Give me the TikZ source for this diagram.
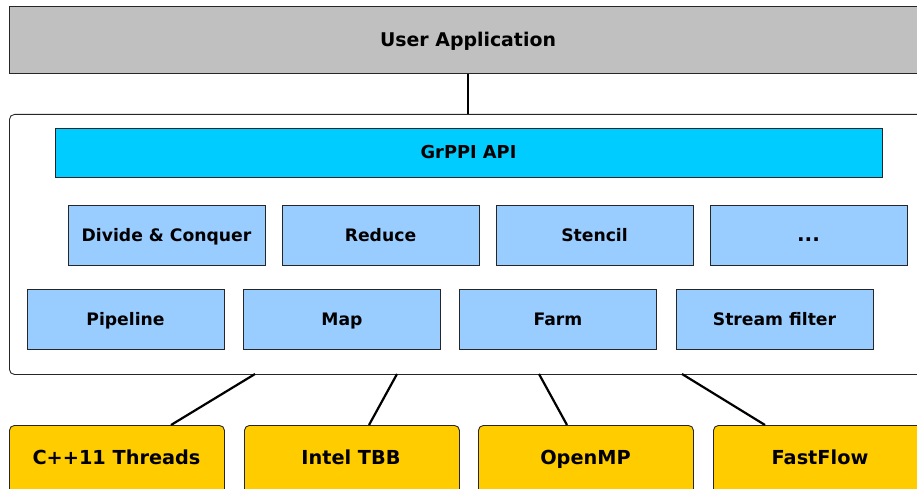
\documentclass[tikz,border=0pt]{standalone}
\usepackage{fontspec}
\setmainfont{DejaVu Sans}
\usetikzlibrary{calc}
\definecolor{appgray}{HTML}{C0C0C0}
\definecolor{apicyan}{HTML}{00CCFF}
\definecolor{patblue}{HTML}{99CCFF}
\definecolor{backyel}{HTML}{FFCC00}
\tikzset{
  lbl/.style={inner sep=0pt, text height=0.73em, text depth=0pt, yshift=-2.8pt},
  box/.style={draw=black!85, line width=0.9pt, inner sep=0pt},
  pat/.style={box, fill=patblue, minimum width=197pt, minimum height=60pt},
  pattxt/.style={lbl, font=\bfseries\fontsize{17.2}{18}\selectfont},
  back/.style={box, fill=backyel, rounded corners=5pt, minimum width=215pt, minimum height=80pt},
  backtxt/.style={lbl, font=\bfseries\fontsize{19.3}{20}\selectfont},
  link/.style={line width=2.2pt, black}
}
\begin{document}
\begin{tikzpicture}[x=1pt,y=-1pt]
\useasboundingbox (0,0) rectangle (917,489);
\clip (0,0) rectangle (917,489);
% user application
\node[box, fill=appgray, minimum width=920pt, minimum height=67pt, anchor=north west] (app) at (9,6) {};
\node[lbl, font=\bfseries\fontsize{18.9}{20}\selectfont] (apptxt) at (468,40) {User Application};
% container
\node[box, rounded corners=5pt, minimum width=930pt, minimum height=260pt, anchor=north west] (cont) at (9,114) {};
% API
\node[box, fill=apicyan, minimum width=827pt, minimum height=49pt] (api) at (468.5,152.5) {};
\node[lbl, font=\bfseries\fontsize{17.8}{18}\selectfont] (apitxt) at (api) {GrPPI API};
% patterns row 1
\node[pat] (dc) at (166.5,235) {};
\node[pat] (red) at (380.5,235) {};
\node[pat] (sten) at (594.5,235) {};
\node[pat] (dots) at (808.5,235) {};
% patterns row 2
\node[pat] (pipe) at (125.5,319) {};
\node[pat] (map) at (342,319) {};
\node[pat] (farm) at (558,319) {};
\node[pat] (sf) at (774.5,319) {};
\node[pattxt] (dctxt) at (dc) {Divide \& Conquer};
\node[pattxt] (redtxt) at (red) {Reduce};
\node[pattxt] (stentxt) at (sten) {Stencil};
\node[pattxt, font=\bfseries\fontsize{20}{20}\selectfont] (dotstxt) at (dots) {...};
\node[pattxt] (pipetxt) at (pipe) {Pipeline};
\node[pattxt] (maptxt) at (map) {Map};
\node[pattxt] (farmtxt) at (farm) {Farm};
\node[pattxt] (sftxt) at (sf) {Stream filter};
% back ends
\node[back, anchor=north west] (cpp) at (9,425) {};
\node[back, anchor=north west] (tbb) at (244,425) {};
\node[back, anchor=north west] (omp) at (478,425) {};
\node[back, anchor=north west] (ff) at (713,425) {};
\node[backtxt] (cpptxt) at (116.5,458) {C++11 Threads};
\node[backtxt] (tbbtxt) at (351,458) {Intel TBB};
\node[backtxt] (omptxt) at (585.5,458) {OpenMP};
\node[backtxt] (fftxt) at (820,458) {FastFlow};
% connectors
\draw[link] (app.south -| apptxt) -- (cont.north -| apptxt);
\coordinate (t1) at (255,374);
\coordinate (t2) at (397,374);
\coordinate (t3) at (539,374);
\coordinate (t4) at (682,374);
\draw[link] (t1) -- ($(cpp.north west)+(162,0)$);
\draw[link] (t2) -- ($(tbb.north west)+(125,0)$);
\draw[link] (t3) -- ($(omp.north west)+(89,0)$);
\draw[link] (t4) -- ($(ff.north west)+(52,0)$);
\end{tikzpicture}
\end{document}
